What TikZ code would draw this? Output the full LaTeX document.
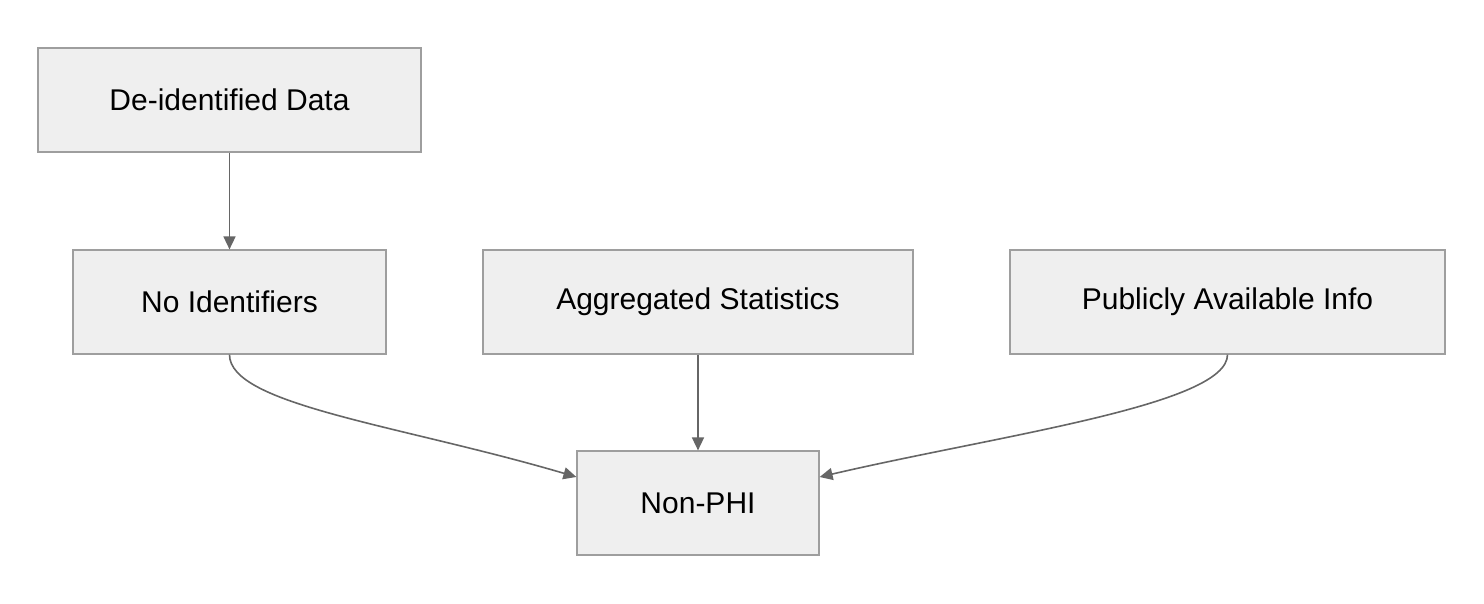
\documentclass[tikz,border=0pt]{standalone}
\usepackage{fontspec}
\setmainfont{Liberation Sans}
\usetikzlibrary{arrows.meta}
\definecolor{boxfill}{HTML}{EFEFEF}
\definecolor{boxline}{HTML}{9E9E9E}
\definecolor{edge}{HTML}{666666}
\tikzset{
  box/.style={draw=boxline, fill=boxfill, line width=1.2pt, inner sep=0pt, font=\fontsize{30}{36}\selectfont},
  conn/.style={draw=edge, line width=1.6pt, -{Triangle[length=13pt,width=12pt]}}
}
\begin{document}
\begin{tikzpicture}[x=1pt,y=-1pt]
\useasboundingbox (0,0) rectangle (1484,604);
\node[box, minimum width=383pt, minimum height=104pt] (d) at (229.5,100) {De-identified Data};
\node[box, minimum width=313pt, minimum height=104pt] (n) at (229.5,302) {No Identifiers};
\node[box, minimum width=430pt, minimum height=104pt] (a) at (698,302) {Aggregated Statistics};
\node[box, minimum width=435pt, minimum height=104pt] (p) at (1227.5,302) {Publicly Available Info};
\node[box, minimum width=242pt, minimum height=104pt] (h) at (698,503) {Non-PHI};
\draw[conn] (d.south) -- (n.north);
\draw[conn] (a.south) -- (h.north);
\draw[conn] (n.south) .. controls (229.5,405) and (400,425) .. (h.west |- 0,477);
\draw[conn] (p.south) .. controls (1227.5,405) and (1000,435) .. (h.east |- 0,477);
\end{tikzpicture}
\end{document}
